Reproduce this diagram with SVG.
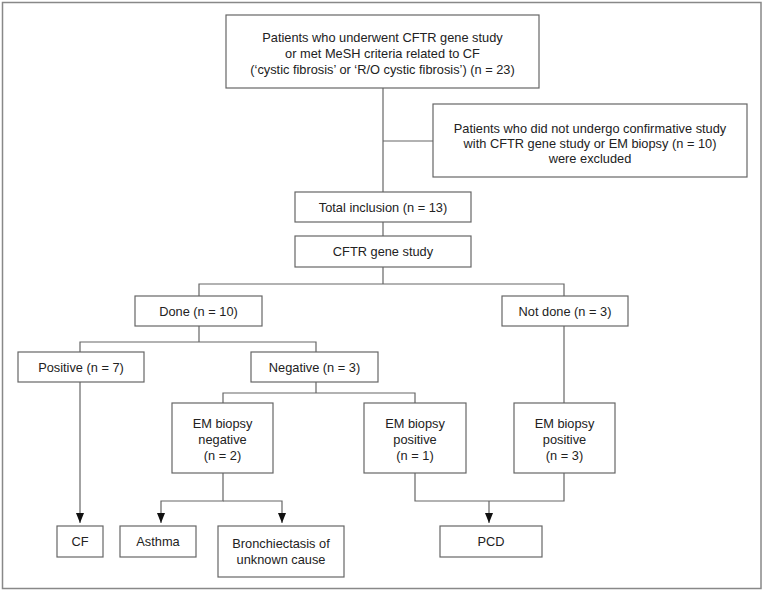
<svg xmlns="http://www.w3.org/2000/svg" width="764" height="592" viewBox="0 0 764 592">
<defs>
<marker id="arr" markerWidth="10" markerHeight="8" refX="10" refY="4" orient="auto" markerUnits="userSpaceOnUse" viewBox="0 0 10 8">
<path d="M0,0 L10,4 L0,8 Z" fill="#111"/>
</marker>
<style>
.box{fill:#fff;stroke:#666;stroke-width:1.2}
.ln{fill:none;stroke:#666;stroke-width:1.2}
text{font-family:"Liberation Sans",Arial,sans-serif;font-size:12.8px;fill:#222;text-anchor:middle;dominant-baseline:central}
</style>
</defs>
<rect x="0" y="0" width="764" height="592" fill="#fff"/>
<rect x="2.5" y="2.5" width="758.5" height="586" fill="none" stroke="#888" stroke-width="1.5"/>
<g id="connectors">
<path class="ln" d="M383,88 V192"/>
<path class="ln" d="M383,141 H433"/>
<path class="ln" d="M383,222 V236"/>
<path class="ln" d="M383,267 V284 M199,296 V284 H564 V296"/>
<path class="ln" d="M199,326 V342 M80,352 V342 H316 V352"/>
<path class="ln" d="M316,382 V393 M223,403 V393 H415 V403"/>
<path class="ln" d="M564,326 V403"/>
<path class="ln" d="M80,382 V523" marker-end="url(#arr)"/>
<path class="ln" d="M223,473 V501 H161 V523" marker-end="url(#arr)"/>
<path class="ln" d="M223,501 H282 V523" marker-end="url(#arr)"/>
<path class="ln" d="M415,473 V501 H564 V473"/>
<path class="ln" d="M489,501 V523" marker-end="url(#arr)"/>
</g>
<g id="n_top">
<rect class="box" x="226" y="15" width="313" height="73"/>
<text x="382.5" y="37">Patients who underwent CFTR gene study</text>
<text x="382.5" y="53">or met MeSH criteria related to CF</text>
<text x="382.5" y="69">(‘cystic fibrosis’ or ‘R/O cystic fibrosis’) (n = 23)</text>
</g>
<g id="n_excluded">
<rect class="box" x="433" y="104" width="314" height="73"/>
<text x="590" y="128">Patients who did not undergo confirmative study</text>
<text x="590" y="143">with CFTR gene study or EM biopsy (n = 10)</text>
<text x="590" y="158">were excluded</text>
</g>
<g id="n_total">
<rect class="box" x="295" y="192" width="176" height="30"/>
<text x="383" y="207">Total inclusion (n = 13)</text>
</g>
<g id="n_cftr">
<rect class="box" x="295" y="236" width="176" height="31"/>
<text x="383" y="251.5">CFTR gene study</text>
</g>
<g id="n_done">
<rect class="box" x="135" y="296" width="127" height="30"/>
<text x="198.5" y="311">Done (n = 10)</text>
</g>
<g id="n_notdone">
<rect class="box" x="502" y="296" width="126" height="30"/>
<text x="565" y="311">Not done (n = 3)</text>
</g>
<g id="n_positive">
<rect class="box" x="18" y="352" width="126" height="30"/>
<text x="81" y="367">Positive (n = 7)</text>
</g>
<g id="n_negative">
<rect class="box" x="251" y="352" width="127" height="30"/>
<text x="314.5" y="367">Negative (n = 3)</text>
</g>
<g id="n_emneg">
<rect class="box" x="172" y="403" width="101" height="70"/>
<text x="222.5" y="423">EM biopsy</text>
<text x="222.5" y="439">negative</text>
<text x="222.5" y="455">(n = 2)</text>
</g>
<g id="n_empos1">
<rect class="box" x="364" y="403" width="102" height="70"/>
<text x="415" y="423">EM biopsy</text>
<text x="415" y="439">positive</text>
<text x="415" y="455">(n = 1)</text>
</g>
<g id="n_empos3">
<rect class="box" x="514" y="403" width="101" height="70"/>
<text x="564.5" y="423">EM biopsy</text>
<text x="564.5" y="439">positive</text>
<text x="564.5" y="455">(n = 3)</text>
</g>
<g id="n_cf">
<rect class="box" x="57" y="526" width="46" height="31"/>
<text x="80" y="541.5">CF</text>
</g>
<g id="n_asthma">
<rect class="box" x="120" y="526" width="76" height="31"/>
<text x="158" y="541.5">Asthma</text>
</g>
<g id="n_bronch">
<rect class="box" x="218" y="526" width="126" height="51"/>
<text x="281" y="543">Bronchiectasis of</text>
<text x="281" y="559">unknown cause</text>
</g>
<g id="n_pcd">
<rect class="box" x="440" y="526" width="102" height="31"/>
<text x="491" y="541.5">PCD</text>
</g>
</svg>
